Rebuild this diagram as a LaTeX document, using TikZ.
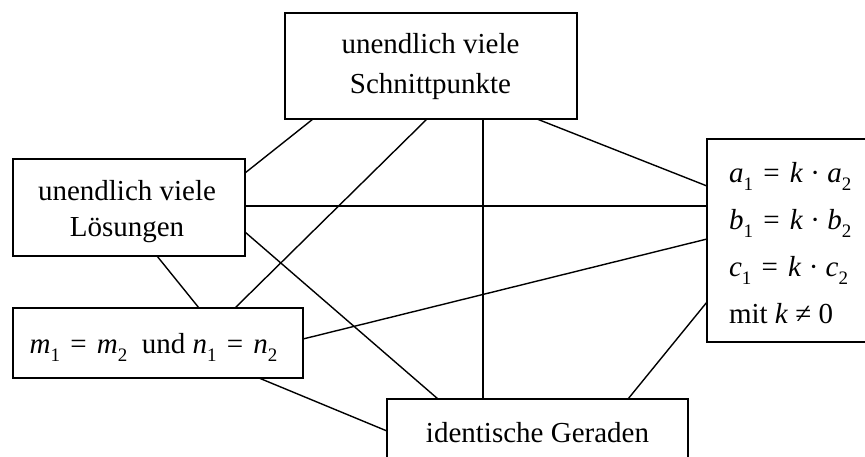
\documentclass[tikz,border=0pt]{standalone}
\usepackage{fontspec}
\setmainfont{Liberation Serif}
\usetikzlibrary{calc}
% lowered subscript digit, italic variable and a widened equals sign for the formulas
\newcommand\lowsub[1]{\raisebox{-0.3em}{\fontsize{19}{19}\selectfont #1}}
\newcommand\mv[1]{\textit{#1}}
\newcommand\eqs{\hspace{3pt} = \hspace{3pt}}

\begin{document}
\begin{tikzpicture}[x=1pt,y=-1pt,
  box/.style={draw, line width=1.8pt, inner sep=0pt, outer sep=0pt},
  txt/.style={inner sep=0pt, outer sep=0pt, anchor=base},
  link/.style={line width=1.4pt}]
\useasboundingbox (0,0) rectangle (865,456);
\clip (0,0) rectangle (865,456);

% boxes
\node[box, minimum width=292pt, minimum height=106pt] (T) at (431,66) {};
\node[box, minimum width=232pt, minimum height=97pt]  (L) at (129,207.5) {};
\node[box, minimum width=290pt, minimum height=70pt]  (M) at (158,343) {};
\node[box, minimum width=170pt, minimum height=203pt] (R) at (792,240.5) {};
\node[box, minimum width=301pt, minimum height=71pt]  (B) at (537.5,434.5) {};

% texts (anchored at the baseline of their first line)
\node[txt, font=\fontsize{29}{40}\selectfont] (Ttext) at (430.5,53)
  {\begin{tabular}[t]{@{}c@{}}unendlich viele\\Schnittpunkte\end{tabular}};
\node[txt, font=\fontsize{29}{36}\selectfont] (Ltext) at (127,200)
  {\begin{tabular}[t]{@{}c@{}}unendlich viele\\Lösungen\end{tabular}};
\node[txt, font=\fontsize{29}{34}\selectfont] (Mtext) at (153.5,353)
  {\mv{m}\lowsub{1}\eqs\mv{m}\lowsub{2} \ und \mv{n}\lowsub{1}\eqs\mv{n}\lowsub{2}};
\node[txt, anchor=base west, font=\fontsize{29}{47}\selectfont] (Rtext) at (729,182)
  {\begin{tabular}[t]{@{}l@{}}
   \mv{a}\lowsub{1}\eqs\mv{k} · \mv{a}\lowsub{2}\\
   \mv{b}\lowsub{1}\eqs\mv{k} · \mv{b}\lowsub{2}\\
   \mv{c}\lowsub{1}\eqs\mv{k} · \mv{c}\lowsub{2}\\
   mit \mv{k} ≠ 0\end{tabular}};
\node[txt, font=\fontsize{29}{34}\selectfont] (Btext) at (537.5,442)
  {identische Geraden};

% connectors
\draw[link] ($(T.south west)+(28,0)$)  -- ($(L.north east)+(0,14)$);
\draw[link] ($(T.south west)+(142,0)$) -- ($(M.north west)+(222,0)$);
\draw[link] ($(T.south west)+(198,0)$) -- ($(B.north west)+(96,0)$);
\draw[link] ($(T.south west)+(252,0)$) -- ($(R.north west)+(0,47)$);
\draw[link] ($(L.north east)+(0,47)$)  -- ($(R.north west)+(0,67)$);
\draw[link] ($(L.north east)+(0,73)$)  -- ($(B.north west)+(51,0)$);
\draw[link] ($(L.south west)+(144,0)$) -- ($(M.north west)+(186,0)$);
\draw[link] ($(M.north east)+(0,31)$)  -- ($(R.north west)+(0,100)$);
\draw[link] ($(M.south west)+(246,0)$) -- ($(B.north west)+(0,32)$);
\draw[link] ($(R.north west)+(0,163)$) -- ($(B.north west)+(241,0)$);
\end{tikzpicture}
\end{document}
